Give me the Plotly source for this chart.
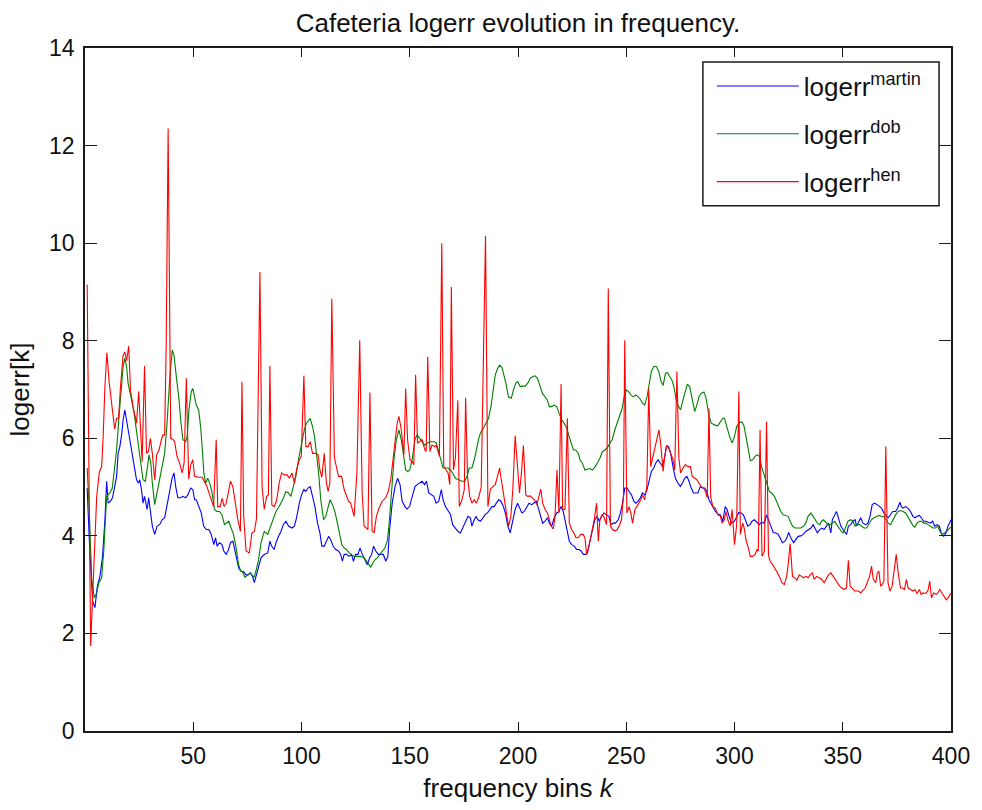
import plotly.graph_objects as go

# ---------------- data ----------------
martin_x = [1, 2, 3.5, 4.6, 5.7, 6.9, 8.1, 9.2, 10, 10.7, 11.8, 12.7, 13.7, 14.6, 15.3, 16.1, 17.0, 17.6, 18.4, 19.2, 20.2, 21, 21.9, 22.7, 23.8, 24.7, 25.3, 26.1, 26.8, 27.5, 28.1, 28.7, 29.4, 30.2, 31.1, 32.2, 33.3, 34.5, 35.6, 36.8, 37.9, 39.1, 40.2, 41.1, 41.9, 42.9, 44.2, 45.3, 46.5, 47.5, 48.8, 49.8, 50.6, 51.4, 52.6, 53.7, 54.8, 56, 57.2, 58.3, 59.5, 60.3, 61, 62.1, 63.3, 64.1, 65.2, 66.3, 67.2, 68.3, 69, 70.1, 71, 72.1, 73.2, 74.4, 75.3, 76.4, 77.4, 78.2, 79, 80.2, 81.3, 82.8, 84.4, 85.4, 86.2, 87.4, 88.2, 89.4, 90.5, 91.6, 92.8, 94, 95.6, 96.7, 97.7, 99, 100, 101.1, 102, 103, 104, 105.1, 106.2, 107.4, 108.5, 109.4, 110.5, 111.5, 112.5, 113.5, 114.6, 115.8, 117.1, 118.1, 118.9, 119.7, 120.8, 122, 123.1, 124, 125, 126.1, 127, 128.1, 129.3, 130.4, 131.5, 132.4, 133.3, 134.3, 135.5, 136.6, 137.8, 138.9, 139.9, 140.7, 141.9, 143.2, 144.4, 145.5, 146.5, 147.8, 148.8, 149.9, 151.1, 152.4, 153.4, 154.5, 155.7, 156.8, 157.7, 158.8, 160, 161.1, 162.2, 163.4, 164.6, 165.4, 166.5, 167.5, 168.8, 169.8, 171.1, 172.3, 173.4, 174.5, 175.7, 176.9, 178, 178.7, 179.5, 180.6, 181.5, 182.6, 183.8, 184.9, 185.9, 186.9, 188, 189, 190, 191, 192.1, 193.3, 194.4, 195.3, 196.4, 197.5, 198.7, 199.8, 200.7, 201.8, 202.9, 204, 205.1, 206.4, 207.4, 208.4, 209.4, 210.5, 211.4, 212.5, 213.6, 214.5, 215.6, 216.7, 217.9, 218.9, 219.9, 220.9, 221.7, 222.8, 223.7, 224.8, 226, 227.1, 228.2, 229.1, 230.2, 231.2, 232.1, 233.2, 234.3, 235.5, 236.6, 237.5, 238.6, 239.7, 240.9, 242, 242.9, 244, 245, 246.3, 247.3, 248.3, 249.3, 250.4, 251.3, 252.4, 253.5, 254.4, 255.5, 256.5, 257.5, 258.5, 259.6, 260.5, 261.6, 262.7, 263.6, 264.7, 265.8, 266.7, 267.8, 268.5, 269.6, 270.5, 271.6, 272.7, 273.9, 275, 275.9, 277, 278, 279, 280, 281.1, 282, 283.1, 284.2, 285.1, 286.2, 287.2, 288.2, 289.2, 290.3, 291.2, 292.3, 293.5, 294.6, 295.7, 296.6, 297.7, 298.7, 300, 301, 302, 303.1, 304.1, 305, 306.1, 307.2, 308.1, 309.2, 310.2, 311.5, 312.5, 313.8, 314.8, 315.8, 316.8, 317.9, 319.1, 320.2, 321.1, 322.2, 323.3, 324.2, 325, 326, 327.3, 328.4, 329.4, 330.6, 331.8, 332.9, 334, 335.3, 336.3, 337.2, 338.3, 339.4, 340.3, 341.4, 342.5, 343.4, 344.5, 345.2, 346.3, 347.1, 348, 349.1, 350.1, 351.1, 351.8, 352.6, 353.7, 354.7, 355.7, 356.4, 357.5, 358.3, 359.3, 360.6, 361.6, 362.6, 363.6, 364.7, 365.9, 367, 367.9, 369, 370.1, 371, 372.1, 373.1, 374.4, 375.4, 376.4, 377.1, 377.9, 379, 380.1, 381.3, 382.4, 383.3, 384.3, 385.4, 386.3, 387.4, 388.5, 389.4, 390.5, 391.5, 392.5, 393.6, 394.6, 395.5, 396.6, 397.7, 398.6, 399.7, 400]
martin_y = [4.98, 3.9, 2.66, 2.53, 2.97, 3.17, 3.58, 4.33, 5.12, 4.67, 4.71, 4.78, 5.01, 5.22, 5.69, 5.83, 6.1, 6.38, 6.58, 6.38, 6.1, 5.9, 5.69, 5.42, 5.15, 5.08, 5.15, 4.94, 4.67, 4.81, 4.67, 4.54, 4.78, 4.47, 4.2, 4.03, 4.2, 4.23, 4.33, 4.37, 4.6, 4.91, 5.18, 5.29, 5.01, 4.78, 4.78, 4.81, 4.78, 4.84, 4.98, 4.95, 4.74, 4.74, 4.6, 4.47, 4.2, 4.13, 4.13, 4.03, 3.82, 3.96, 3.79, 3.86, 3.82, 3.69, 3.62, 3.72, 3.86, 3.89, 3.75, 3.55, 3.34, 3.27, 3.27, 3.2, 3.2, 3.24, 3.17, 3.04, 3.17, 3.38, 3.55, 3.62, 3.65, 3.89, 3.79, 3.72, 3.86, 3.99, 4.09, 4.23, 4.3, 4.2, 4.16, 4.2, 4.37, 4.67, 4.84, 4.95, 4.91, 4.98, 5.01, 4.81, 4.6, 4.26, 4.06, 3.79, 3.79, 3.89, 3.99, 3.92, 3.79, 3.72, 3.69, 3.62, 3.48, 3.62, 3.62, 3.58, 3.62, 3.48, 3.62, 3.62, 3.75, 3.62, 3.51, 3.41, 3.55, 3.62, 3.79, 3.69, 3.62, 3.62, 3.62, 3.48, 3.58, 4.13, 4.67, 5.01, 5.18, 5.05, 4.71, 4.6, 4.55, 4.6, 4.78, 5.01, 5.05, 5.08, 5.12, 5.05, 5.12, 4.88, 4.84, 4.81, 4.67, 4.71, 4.95, 4.74, 4.6, 4.54, 4.44, 4.23, 4.16, 4.09, 4.06, 4.16, 4.3, 4.4, 4.37, 4.2, 4.3, 4.4, 4.33, 4.3, 4.37, 4.44, 4.47, 4.54, 4.6, 4.6, 4.67, 4.74, 4.71, 4.6, 4.42, 4.2, 4.06, 4.26, 4.54, 4.67, 4.57, 4.47, 4.5, 4.6, 4.67, 4.64, 4.67, 4.71, 4.57, 4.4, 4.26, 4.3, 4.37, 4.26, 4.2, 4.37, 4.47, 4.5, 4.6, 4.5, 4.33, 4.13, 3.89, 3.82, 3.79, 3.72, 3.72, 3.69, 3.62, 3.62, 3.65, 3.89, 4.13, 4.33, 4.4, 4.3, 4.4, 4.47, 4.43, 4.4, 4.23, 4.26, 4.26, 4.33, 4.47, 4.67, 4.98, 4.98, 4.91, 4.84, 4.71, 4.67, 4.71, 4.78, 4.88, 4.84, 4.95, 5.15, 5.32, 5.39, 5.49, 5.56, 5.49, 5.42, 5.63, 5.83, 5.83, 5.69, 5.42, 5.18, 5.08, 5.01, 5.08, 5.18, 5.22, 5.12, 4.98, 4.88, 4.88, 4.88, 5.01, 4.98, 4.98, 4.91, 4.74, 4.67, 4.57, 4.5, 4.45, 4.43, 4.3, 4.6, 4.54, 4.37, 4.26, 4.3, 4.4, 4.48, 4.47, 4.43, 4.33, 4.2, 4.23, 4.3, 4.33, 4.28, 4.23, 4.28, 4.26, 4.43, 4.33, 4.2, 4.07, 4.06, 4.03, 3.96, 3.86, 3.89, 3.96, 4.07, 3.96, 3.86, 3.92, 3.99, 4.0, 4.03, 4.09, 4.13, 4.16, 4.23, 4.16, 4.06, 4.13, 4.16, 4.13, 4.2, 4.26, 4.06, 4.33, 4.43, 4.5, 4.37, 4.2, 4.13, 4.06, 4.03, 4.2, 4.23, 4.3, 4.33, 4.2, 4.3, 4.37, 4.26, 4.23, 4.26, 4.4, 4.64, 4.67, 4.64, 4.6, 4.57, 4.47, 4.4, 4.37, 4.43, 4.5, 4.5, 4.57, 4.69, 4.6, 4.57, 4.6, 4.57, 4.5, 4.4, 4.37, 4.4, 4.42, 4.37, 4.3, 4.3, 4.28, 4.26, 4.3, 4.2, 4.23, 4.2, 4.06, 3.99, 4.06, 4.2, 4.3, 4.33]

dob_x = [1, 2, 3.1, 4.3, 5.4, 6.4, 7.7, 8.7, 10, 11.5, 12.6, 13.5, 14.6, 15.6, 16.9, 17.6, 18.4, 19.2, 19.9, 20.7, 21.8, 22.7, 23.8, 24.8, 25.9, 26.8, 27.9, 28.8, 29.6, 30.4, 31.1, 32.2, 33.3, 34.5, 35.7, 36.8, 37.9, 39.1, 40.3, 41.1, 42.2, 43.3, 44.2, 45.2, 46.5, 47.2, 48, 49.1, 49.8, 50.6, 51.4, 52.5, 53.4, 54.1, 54.9, 55.7, 56.7, 57.8, 58.7, 59.8, 60.9, 62.1, 63.3, 64.4, 65.5, 66.4, 67.5, 68.6, 69.8, 70.9, 71.8, 72.9, 73.9, 75.2, 76.2, 77.1, 78.1, 79, 80.1, 81.3, 82.8, 84.4, 85.4, 86.7, 88.2, 89.7, 91.3, 92.8, 94, 95.1, 96.2, 97.4, 98.6, 99.9, 100.6, 101.3, 102.3, 103.3, 104, 105.1, 106, 106.9, 107.9, 108.9, 110.2, 111.2, 112.3, 113.2, 114.3, 115.4, 116.6, 117.7, 118.6, 119.7, 120.8, 122, 123.2, 124.3, 125.8, 127.3, 128.9, 130, 130.9, 132, 133, 133.9, 135, 136.1, 137.3, 138.5, 139.6, 140.4, 141.2, 141.9, 142.7, 143.8, 145, 146.1, 147, 148.1, 149.1, 150, 151.1, 152.4, 153.4, 154.5, 155.7, 156.9, 158, 159.1, 160.3, 161.4, 162.3, 163.4, 164.5, 165.4, 166.5, 167.7, 168.8, 169.8, 171.1, 172.6, 174.1, 175.4, 176.5, 177.5, 178.7, 179.8, 181, 182.1, 183, 184.1, 185.2, 186.4, 187.5, 188.4, 189.5, 190.6, 191.5, 192.6, 193.5, 194.4, 195.6, 196.9, 197.9, 199, 199.9, 201, 202.1, 203.3, 204.5, 205.6, 206.7, 207.9, 209, 210.2, 211.3, 212.5, 213.6, 214.5, 215.6, 216.7, 217.9, 219, 220.2, 221.3, 222.5, 223.6, 224.5, 225.6, 226.6, 227.9, 228.6, 229.7, 230.9, 232, 233.2, 234.3, 235.5, 236.6, 237.8, 238.9, 240.1, 241.2, 242.4, 243.5, 244.7, 245.9, 247, 248.1, 249, 250.1, 251.2, 252.1, 253.2, 254.3, 255.5, 256.5, 257.5, 258.5, 259.6, 260.5, 261.6, 262.7, 263.9, 265, 265.9, 267, 268.1, 269, 270.1, 271.1, 272, 273.1, 274.2, 275.1, 276.2, 277.3, 278.2, 279.3, 280.3, 281.6, 282.6, 283.6, 284.6, 285.9, 286.9, 288, 289.2, 290.3, 291.5, 292.3, 293.5, 294.6, 295.4, 296.4, 297.7, 298.9, 300, 301, 302.3, 303.3, 304.3, 305.3, 306.4, 307.3, 308.4, 309.5, 310.4, 311.5, 312.5, 313.8, 315, 316.1, 317.1, 318.4, 319.4, 320.4, 321.4, 322.5, 323.7, 324.8, 325.7, 326.8, 327.9, 329.1, 330.6, 331.9, 332.9, 334, 335.3, 336.3, 337.2, 338.3, 339.4, 340.2, 341.1, 342.2, 343.2, 344.2, 345.2, 346.3, 347.2, 348.3, 349.4, 350.3, 351.4, 352.4, 353.7, 354.7, 355.7, 356.7, 357.8, 358.7, 359.8, 361, 362.1, 363.2, 364.4, 365.5, 366.7, 367.8, 369, 370.1, 371, 372.1, 373.2, 374.4, 375.6, 376.7, 377.9, 379, 380, 381.3, 382.4, 383.3, 384.3, 385.4, 386.3, 387.4, 388.5, 389.4, 390.5, 391.7, 392.8, 393.9, 394.8, 395.9, 397, 398.2, 399.4, 400]
dob_y = [5.39, 4.5, 3.1, 2.73, 2.83, 3.04, 3.14, 3.72, 4.81, 4.88, 4.98, 5.29, 5.76, 6.38, 7.19, 7.47, 7.64, 7.47, 7.13, 6.92, 6.72, 6.51, 6.17, 5.83, 5.49, 5.15, 5.12, 5.42, 5.66, 5.49, 5.08, 4.64, 4.88, 5.15, 5.39, 5.69, 6.31, 7.19, 7.81, 7.7, 7.26, 6.85, 6.38, 5.97, 5.93, 6.04, 6.58, 6.96, 7.02, 6.85, 6.68, 6.58, 6.24, 5.83, 5.29, 5.08, 5.18, 5.05, 4.88, 4.54, 4.5, 4.5, 4.43, 4.23, 4.26, 4.3, 4.16, 4.03, 3.76, 3.42, 3.29, 3.25, 3.15, 3.2, 3.24, 3.2, 3.15, 3.29, 3.49, 3.86, 4.09, 4.03, 4.16, 4.33, 4.5, 4.6, 4.74, 4.91, 4.88, 4.81, 4.98, 5.22, 5.56, 5.85, 6.0, 6.17, 6.31, 6.38, 6.41, 6.24, 6.04, 5.69, 5.29, 4.74, 4.33, 4.4, 4.6, 4.74, 4.64, 4.5, 4.26, 3.99, 3.82, 3.75, 3.72, 3.65, 3.62, 3.58, 3.58, 3.58, 3.55, 3.48, 3.41, 3.36, 3.45, 3.51, 3.55, 3.62, 3.68, 3.75, 3.89, 4.2, 4.67, 5.15, 5.56, 5.97, 6.17, 5.97, 5.69, 5.35, 5.32, 5.35, 5.56, 5.97, 6.07, 6.0, 5.93, 5.86, 5.9, 5.93, 5.93, 5.93, 5.9, 5.73, 5.56, 5.39, 5.39, 5.39, 5.35, 5.29, 5.18, 5.15, 5.12, 5.12, 5.22, 5.39, 5.39, 5.56, 5.83, 6.04, 6.14, 6.21, 6.31, 6.41, 6.65, 6.99, 7.3, 7.43, 7.5, 7.45, 7.3, 7.13, 6.85, 6.82, 6.99, 7.13, 7.16, 7.06, 7.07, 7.07, 7.13, 7.23, 7.26, 7.28, 7.23, 7.06, 6.92, 6.85, 6.78, 6.65, 6.65, 6.68, 6.65, 6.51, 6.38, 6.31, 6.21, 6.04, 5.9, 5.76, 5.76, 5.69, 5.56, 5.49, 5.35, 5.36, 5.38, 5.35, 5.41, 5.49, 5.59, 5.72, 5.76, 5.8, 5.9, 5.97, 6.17, 6.34, 6.48, 6.61, 6.85, 6.99, 6.95, 6.89, 6.85, 6.89, 6.85, 6.8, 6.72, 6.68, 6.85, 7.13, 7.37, 7.47, 7.47, 7.37, 7.19, 7.08, 7.33, 7.35, 7.26, 7.19, 7.06, 6.78, 6.65, 6.58, 6.78, 6.99, 7.11, 7.06, 6.85, 6.55, 6.68, 6.85, 6.92, 6.95, 6.82, 6.51, 6.31, 6.28, 6.26, 6.26, 6.34, 6.41, 6.41, 6.24, 6.04, 5.9, 6.04, 6.24, 6.32, 6.34, 6.27, 6.04, 5.76, 5.54, 5.56, 5.63, 5.66, 5.63, 5.42, 5.22, 5.08, 4.91, 4.88, 4.81, 4.71, 4.6, 4.5, 4.43, 4.41, 4.4, 4.3, 4.2, 4.16, 4.16, 4.16, 4.2, 4.26, 4.4, 4.47, 4.4, 4.33, 4.26, 4.23, 4.3, 4.33, 4.28, 4.23, 4.23, 4.26, 4.3, 4.23, 4.16, 4.09, 4.06, 4.2, 4.3, 4.33, 4.3, 4.2, 4.23, 4.23, 4.2, 4.16, 4.16, 4.26, 4.33, 4.37, 4.4, 4.42, 4.4, 4.39, 4.33, 4.26, 4.23, 4.33, 4.43, 4.5, 4.52, 4.5, 4.47, 4.4, 4.3, 4.21, 4.18, 4.26, 4.3, 4.3, 4.26, 4.26, 4.23, 4.2, 4.16, 4.16, 4.2, 4.1, 4.03, 4.06, 4.1, 4.16, 4.18]

hen_x = [1, 2.6, 5.4, 6.6, 7.7, 8.4, 9.2, 10.1, 11.2, 12.3, 13.7, 14.6, 15.5, 16.4, 17.6, 18.4, 19.2, 20.2, 21.0, 22.2, 23.8, 24.8, 25.6, 26.4, 27.5, 28.4, 29.3, 30.2, 31.1, 32.2, 33.1, 34.2, 35.3, 36.0, 36.8, 37.5, 38.4, 39.6, 40.6, 41.4, 42.5, 43.7, 44.9, 45.8, 46.8, 47.9, 48.8, 49.8, 50.6, 52.1, 54.1, 55.4, 56.3, 57.8, 59.4, 60.6, 61.3, 62.4, 63.3, 64.3, 65.2, 66.3, 67.2, 68.3, 69.3, 70.6, 71.8, 72.5, 73.3, 74.4, 75.9, 77.1, 78.2, 79.2, 80.8, 81.8, 82.8, 83.9, 84.7, 85.4, 86.3, 87.4, 88.5, 89.7, 90.8, 92, 93.4, 94.4, 95.6, 96.7, 97.7, 99, 99.9, 101.1, 102, 103, 104, 105.1, 106.6, 107.7, 108.5, 109.4, 110.5, 111.5, 112.3, 113.1, 114, 115.2, 117.1, 118.5, 119.7, 120.8, 121.7, 122.7, 123.5, 124.3, 125.6, 126.9, 128, 128.9, 130, 130.7, 131.6, 132.6, 133.5, 134.6, 135.8, 137.3, 138.9, 140.1, 141.2, 142.2, 143.2, 144.2, 145, 146.1, 147.3, 148.1, 149, 150.1, 150.9, 151.9, 152.7, 153.6, 154.7, 155.7, 157, 157.6, 158.3, 159.3, 160.3, 161.4, 162.2, 163, 163.7, 164.8, 165.7, 166.8, 167.7, 168.5, 169.2, 170.2, 171.1, 172.2, 172.9, 174.1, 175.2, 175.8, 176.7, 177.7, 178.7, 179.8, 180.7, 181.8, 183, 185, 186.1, 187.2, 188.3, 189.5, 190.6, 191.5, 192.3, 193.3, 194.4, 195.6, 196.7, 197.6, 198.7, 199.8, 200.7, 201.6, 202.5, 203.6, 204.5, 205.6, 206.7, 207.6, 208.7, 209.4, 210.5, 211.4, 212.5, 213.6, 214.5, 215.3, 216.3, 217.1, 218, 218.9, 219.9, 220.6, 221.7, 222.8, 223.7, 224.8, 225.8, 226.8, 227.9, 228.9, 230.1, 230.9, 231.7, 232.8, 234, 235.2, 236.3, 237.1, 237.8, 238.9, 239.8, 240.9, 241.7, 242.7, 243.7, 244.7, 245.8, 246.7, 247.8, 248.7, 249.3, 250.3, 251.3, 252.1, 252.9, 254, 254.9, 255.8, 256.7, 257.5, 258.5, 259.5, 260.4, 261.3, 262.4, 263.5, 264.4, 265.1, 265.9, 267, 267.8, 268.7, 269.6, 270.5, 271.6, 272.4, 273.4, 274.3, 275.1, 276.2, 277.3, 278.5, 279.6, 280.5, 281.6, 282.6, 283.6, 284.6, 285.7, 286.6, 287.4, 288.2, 289, 290, 291.1, 292.3, 293.5, 294.3, 295.3, 296.1, 296.9, 298, 298.9, 300, 301, 302, 302.7, 303.8, 304.5, 305.3, 306.4, 307.3, 308.4, 309.5, 310.4, 311.0, 311.8, 312.7, 313.8, 314.8, 315.7, 316.5, 317.6, 318.7, 319.9, 321, 321.9, 323, 324.1, 324.8, 325.7, 326.8, 327.9, 328.8, 329.9, 331, 331.9, 333, 334, 334.9, 336, 336.8, 337.9, 339.1, 340.2, 341.4, 342.5, 343.4, 344.5, 345.5, 346.5, 347.5, 348.6, 349.5, 350.6, 351.7, 352.6, 353.4, 354.4, 355.5, 356.4, 357.2, 358.3, 359.3, 360.3, 361.3, 362.4, 363.3, 364.1, 365.2, 366, 366.7, 367.5, 368.2, 369, 369.9, 370.9, 371.8, 372.8, 373.6, 374.7, 375.6, 376.7, 377.7, 378.5, 379.4, 380.2, 381.3, 382.4, 383.3, 384.3, 385.4, 386.2, 387.1, 388.2, 389.3, 390.2, 391, 392, 393.1, 393.9, 394.8, 395.9, 396.9, 397.8, 398.6, 399.7, 400]
hen_y = [9.15, 1.74, 4.8, 5.3, 5.42, 6.04, 7.06, 7.76, 7.13, 6.65, 6.19, 6.41, 6.41, 7.06, 7.7, 7.77, 7.59, 7.89, 6.99, 6.65, 6.31, 6.96, 6.24, 5.52, 7.48, 5.69, 5.73, 6.0, 5.69, 5.15, 5.66, 5.76, 5.97, 6.07, 6.07, 7.9, 12.35, 6.0, 5.98, 5.93, 5.63, 5.49, 5.29, 5.5, 7.23, 5.16, 5.45, 5.56, 5.22, 5.2, 5.2, 5.08, 5.01, 4.81, 4.6, 5.97, 4.6, 4.6, 4.77, 4.6, 4.67, 4.91, 5.12, 5.01, 4.67, 4.33, 4.09, 7.16, 4.4, 3.69, 3.65, 4.06, 4.09, 4.35, 9.41, 5.0, 4.54, 4.81, 4.84, 7.48, 4.63, 4.6, 4.73, 5.08, 5.29, 5.25, 5.25, 5.18, 5.29, 5.08, 5.35, 5.56, 5.63, 7.28, 5.83, 5.83, 5.93, 5.69, 5.69, 5.66, 5.35, 5.2, 5.69, 5.08, 4.91, 5.08, 8.86, 5.6, 5.22, 5.22, 4.95, 4.81, 4.71, 4.67, 4.54, 4.4, 5.3, 8.01, 4.9, 4.2, 4.16, 4.13, 6.94, 4.1, 4.06, 4.4, 4.57, 4.71, 4.78, 4.91, 5.15, 5.49, 5.93, 6.31, 6.45, 6.17, 5.66, 7.02, 5.97, 5.56, 5.53, 5.46, 7.3, 5.9, 5.93, 5.97, 5.76, 5.73, 7.67, 5.73, 5.86, 5.83, 5.86, 5.76, 5.63, 10.0, 5.42, 5.35, 5.29, 5.05, 9.1, 5.35, 5.6, 6.78, 4.6, 4.74, 4.95, 6.83, 5.2, 4.81, 4.67, 4.74, 4.67, 4.78, 5.0, 10.15, 4.6, 4.95, 5.01, 5.05, 5.22, 5.39, 5.15, 4.88, 4.54, 4.2, 4.4, 4.95, 6.05, 5.29, 4.88, 5.29, 5.85, 4.84, 4.81, 4.82, 4.78, 4.74, 4.64, 4.78, 4.96, 4.67, 4.54, 4.47, 4.33, 4.2, 4.14, 4.4, 5.35, 4.47, 7.11, 4.54, 4.54, 6.41, 4.26, 4.13, 4.06, 3.96, 3.96, 4.03, 4.03, 3.96, 3.62, 3.79, 4.06, 4.33, 4.67, 3.89, 4.33, 4.44, 4.37, 4.23, 9.07, 4.2, 4.13, 4.1, 4.13, 4.2, 4.33, 4.81, 8.01, 4.47, 4.6, 4.47, 4.26, 4.54, 4.6, 4.67, 4.74, 4.84, 4.74, 5.01, 7.02, 5.42, 5.63, 5.8, 5.97, 6.17, 5.9, 5.32, 5.63, 5.86, 5.8, 5.69, 5.56, 5.35, 7.37, 5.6, 5.29, 5.39, 5.46, 5.42, 5.42, 5.22, 5.18, 5.15, 5.08, 5.01, 4.98, 4.91, 4.78, 6.61, 4.8, 4.6, 4.57, 4.43, 4.4, 4.26, 4.33, 4.5, 4.33, 4.2, 4.54, 3.82, 4.23, 6.96, 4.03, 4.26, 4.16, 3.92, 3.75, 3.58, 3.58, 3.62, 3.72, 3.69, 6.17, 3.58, 3.68, 6.34, 3.6, 3.48, 3.41, 3.34, 3.24, 3.14, 3.04, 3.0, 3.17, 3.41, 3.84, 3.17, 3.14, 3.09, 3.2, 3.17, 3.14, 3.17, 3.14, 3.2, 3.24, 3.11, 3.17, 3.14, 3.11, 3.04, 3.14, 3.2, 3.24, 3.17, 3.11, 3.04, 2.97, 2.93, 2.9, 2.93, 3.5, 2.97, 2.93, 2.87, 2.87, 2.87, 2.83, 2.87, 2.93, 3.04, 3.17, 3.38, 3.11, 3.04, 3.24, 3.28, 2.97, 3.0, 3.07, 5.83, 3.04, 2.87, 2.97, 3.24, 3.62, 3.24, 2.93, 2.93, 2.9, 3.11, 2.93, 2.9, 2.87, 2.9, 2.82, 2.9, 2.8, 2.83, 2.82, 2.87, 3.07, 2.73, 2.83, 2.8, 2.83, 2.9, 2.83, 2.76, 2.69, 2.73, 2.8, 2.83]

series_names = ["logerr<sup>martin</sup>", "logerr<sup>dob</sup>", "logerr<sup>hen</sup>"]
series_colors = ["#0000ff", "#008000", "#ff0000"]

x_ticks = [50, 100, 150, 200, 250, 300, 350, 400]
y_ticks = [0, 2, 4, 6, 8, 10, 12, 14]

FONT = "Liberation Sans, Arial, sans-serif"
AX = "#1a1a1a"
TXT = "#111111"

fig = go.Figure()
for i, (xs, ys, name, col) in enumerate(zip([martin_x, dob_x, hen_x], [martin_y, dob_y, hen_y],
                                            series_names, series_colors)):
    fig.add_trace(go.Scatter(x=xs, y=ys, mode="lines", name=name, legendgroup=f"g{i}",
                             line=dict(color=col, width=1.1)))

# legend frame (MATLAB-style box)
fig.add_shape(type="rect", xref="paper", yref="paper",
              x0=0.7135, x1=0.9862, y0=0.769, y1=0.9795,
              line=dict(color=AX, width=1.5), fillcolor="white", layer="below")

fig.update_layout(
    width=982, height=810,
    paper_bgcolor="white", plot_bgcolor="white",
    margin=dict(l=85, r=28, t=48, b=78),
    font=dict(family=FONT, size=24, color=TXT),
    title=dict(text="Cafeteria logerr evolution in frequency.",
               x=0.5, xref="paper", y=1 - 23 / 810, yref="container",
               xanchor="center", yanchor="middle",
               font=dict(family=FONT, size=26, color=TXT)),
    showlegend=True,
    legend=dict(x=0.7238, y=0.9786, xanchor="left", yanchor="top",
                borderwidth=0, bgcolor="rgba(0,0,0,0)",
                font=dict(family=FONT, size=26, color=TXT),
                itemwidth=82, tracegroupgap=11),
)
fig.update_xaxes(range=[0, 400], tickvals=x_ticks, ticktext=[str(v) for v in x_ticks],
                 ticks="inside", ticklen=9, tickwidth=1.3, tickcolor=AX,
                 showline=True, linecolor=AX, linewidth=1.6, mirror="ticks",
                 showgrid=False, zeroline=False, ticklabelstandoff=4,
                 tickfont=dict(family=FONT, size=23, color=TXT),
                 title=dict(text="frequency bins <i>k</i>", standoff=10,
                            font=dict(family=FONT, size=26, color=TXT)))
fig.update_yaxes(range=[0, 14], tickvals=y_ticks, ticktext=[str(v) for v in y_ticks],
                 ticks="inside", ticklen=12, tickwidth=1.3, tickcolor=AX,
                 showline=True, linecolor=AX, linewidth=1.6, mirror="ticks",
                 showgrid=False, zeroline=False, ticklabelstandoff=4,
                 tickfont=dict(family=FONT, size=23, color=TXT),
                 title=dict(text="logerr[k]", standoff=12,
                            font=dict(family=FONT, size=26, color=TXT)))

fig.write_html("out.html")
